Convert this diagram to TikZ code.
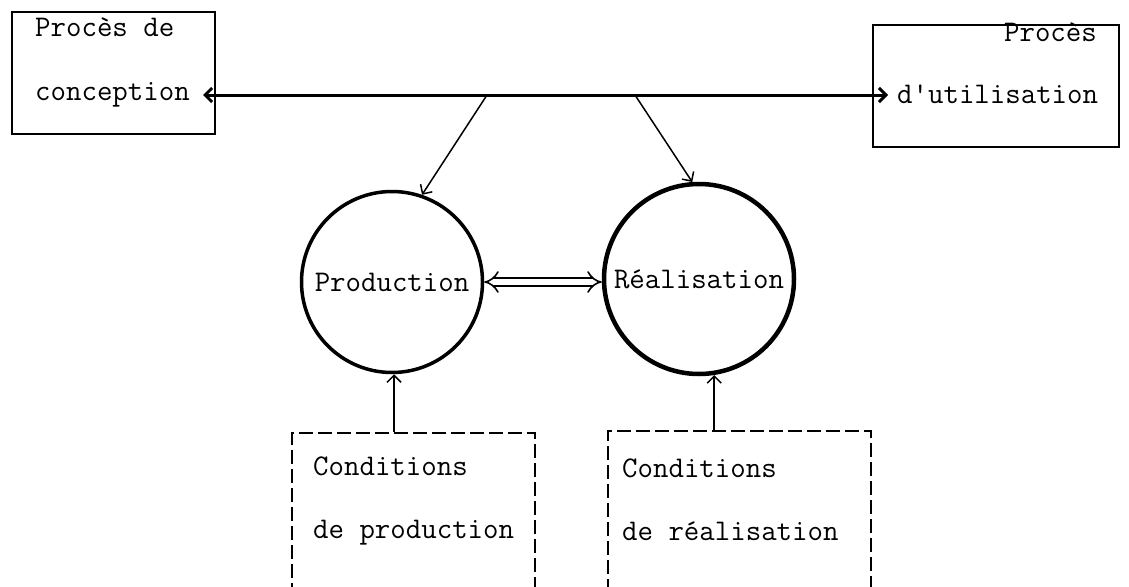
\documentclass[tikz,border=0pt]{standalone}
\usepackage{fontspec}
\usetikzlibrary{arrows.meta}
\begin{document}
\begin{tikzpicture}[x=1pt,y=-1pt,
  every node/.style={font=\ttfamily\fontsize{30}{35}\selectfont, inner sep=0pt},
  solidbox/.style={draw, line width=1.8pt, rectangle},
  dashbox/.style={draw, line width=1.8pt, rectangle, dash pattern=on 14pt off 5pt},
  txt/.style={anchor=base west},
  ring/.style={draw, circle, line width=3.5pt},
  mainarrow/.style={line width=3pt, {Straight Barb[length=7pt,width=14pt]}-{Straight Barb[length=7pt,width=14pt]}},
  thinarrow/.style={line width=1.5pt, -{Straight Barb[length=7pt,width=14pt]}},
  dblarrow/.style={double, double distance=6pt, line width=1.6pt, {Implies}-{Implies}}
]
\useasboundingbox (0,0) rectangle (1129,586);
\clip (0,0) rectangle (1129,586);
\fill[white] (0,0) rectangle (1129,586);

% top boxes
\node[solidbox, minimum width=203pt, minimum height=122pt] (lb) at (113.5,73) {};
\node[txt] (lt1) at (35,37) {Procès de};
\node[txt] (lt2) at (35,100) {conception};
\node[solidbox, minimum width=246pt, minimum height=122pt] (rb) at (996,86) {};
\node[anchor=base east] (rt1) at (1097,42) {Procès};
\node[txt] (rt2) at (897,103) {d'utilisation};

% circles
\node[ring, minimum size=181pt] (prod) at (392,282) {Production};
\node[ring, line width=4.5pt, minimum size=190pt] (real) at (699,279) {Réalisation};

% dashed boxes
\node[dashbox, minimum width=243pt, minimum height=200pt] (condp) at (413.5,533) {};
\node[txt] (cp1) at (313,475) {Conditions};
\node[txt] (cp2) at (313,538) {de production};
\node[dashbox, minimum width=263pt, minimum height=200pt] (condr) at (739.5,531) {};
\node[txt] (cr1) at (622,477) {Conditions};
\node[txt] (cr2) at (622,540) {de réalisation};

% connectors
\coordinate (la) at (203,95);
\coordinate (ra) at (888,95);
\coordinate (s1) at (487,95);
\coordinate (s2) at (635,95);
\draw[mainarrow] (la) -- (ra);
\draw[thinarrow] (s1) -- (prod.71);
\draw[thinarrow] (s2) -- (real.94);
\draw[dblarrow] (prod.east) -- (prod.east -| real.west);
\draw[thinarrow] (condp.north -| 394,0) -- (prod.south -| 394,0);
\draw[thinarrow] (condr.north -| real.-81) -- (real.-81);
\end{tikzpicture}
\end{document}
